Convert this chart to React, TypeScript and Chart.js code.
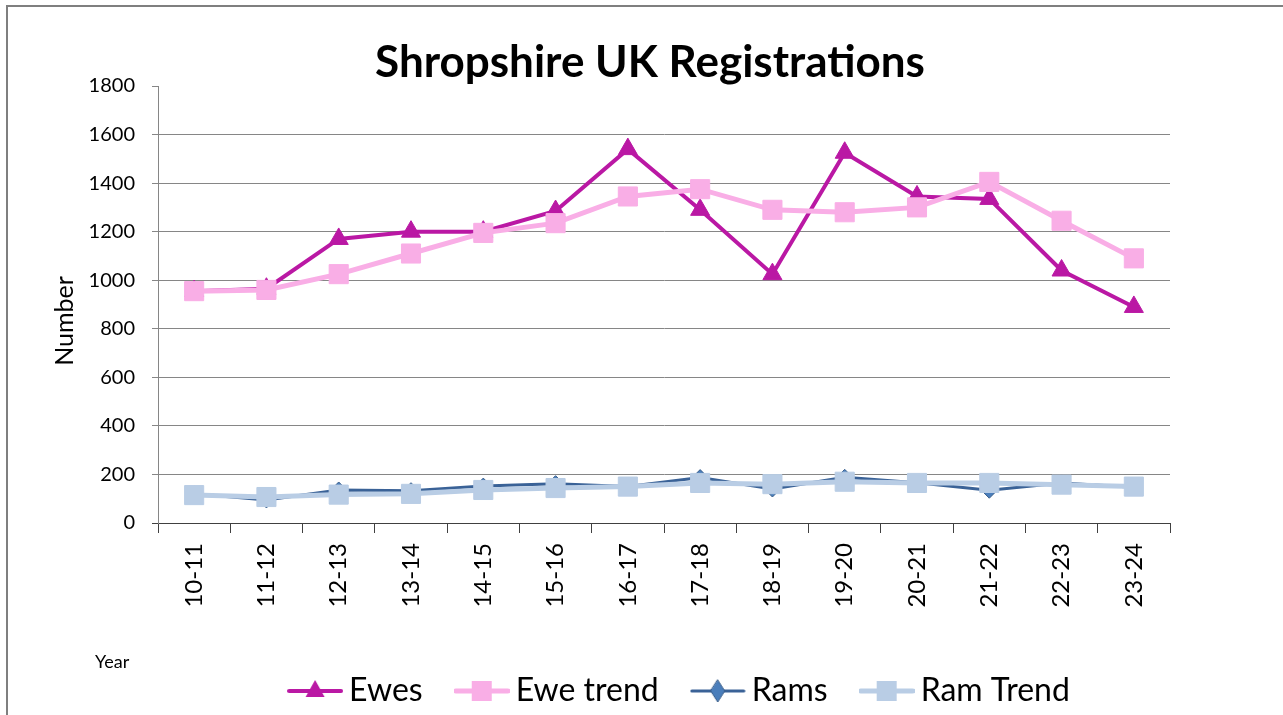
import React, { useEffect, useRef } from 'react';
import { Chart, registerables } from 'chart.js';

Chart.register(...registerables);

const categories = ['10-11', '11-12', '12-13', '13-14', '14-15', '15-16', '16-17', '17-18', '18-19', '19-20', '20-21', '21-22', '22-23', '23-24'];
const ewes = [955, 965, 1170, 1200, 1200, 1285, 1540, 1290, 1025, 1525, 1345, 1335, 1040, 890];
const eweTrend = [955, 960, 1025, 1110, 1195, 1235, 1345, 1375, 1290, 1280, 1300, 1405, 1245, 1090];
const rams = [120, 95, 136, 133, 152, 162, 150, 187, 140, 188, 166, 135, 165, 147];
const ramTrend = [115, 107, 117, 120, 136, 144, 150, 165, 160, 170, 165, 165, 158, 150];
const seriesNames = ['Ewes', 'Ewe trend', 'Rams', 'Ram Trend'];
const yMin = 0;
const yMax = 1800;
const yStep = 200;
const titleText = 'Shropshire UK Registrations';
const yTitle = 'Number';
const xTitle = 'Year';

const FONT = 'Lato, Carlito, Calibri, "Noto Sans", sans-serif';
const EWE = '#BA18A4';
const EWE_T = '#F9AEE6';
const RAM = '#3A6297';
const RAM_FILL = '#4A7EBB';
const RAM_T = '#B9CDE5';
const GRID = '#868686';
const AXIS = '#404040';

function makeSymbol(kind: string): HTMLCanvasElement {
  const c = document.createElement('canvas');
  c.width = 56;
  c.height = 28;
  const ctx = c.getContext('2d')!;
  const cy = 14;
  ctx.lineCap = 'round';
  const line = (color: string, w: number) => {
    ctx.strokeStyle = color; ctx.lineWidth = w;
    ctx.beginPath(); ctx.moveTo(2, cy); ctx.lineTo(54, cy); ctx.stroke();
  };
  if (kind === 'ewes') {
    line(EWE, 4);
    ctx.fillStyle = EWE;
    ctx.beginPath(); ctx.moveTo(28, cy - 11); ctx.lineTo(28 + 9.5, cy + 6); ctx.lineTo(28 - 9.5, cy + 6); ctx.closePath(); ctx.fill();
  } else if (kind === 'ewet') {
    line(EWE_T, 5);
    ctx.fillStyle = EWE_T; ctx.fillRect(18, cy - 10, 20, 20);
  } else if (kind === 'rams') {
    line(RAM, 3);
    ctx.fillStyle = RAM_FILL; ctx.strokeStyle = '#385D8A'; ctx.lineWidth = 1;
    ctx.beginPath(); ctx.moveTo(28, cy - 11); ctx.lineTo(35, cy); ctx.lineTo(28, cy + 11); ctx.lineTo(21, cy); ctx.closePath(); ctx.fill(); ctx.stroke();
  } else {
    line(RAM_T, 5);
    ctx.fillStyle = RAM_T; ctx.fillRect(18, cy - 10, 20, 20);
  }
  return c;
}

export default function App() {
  const ref = useRef<HTMLCanvasElement>(null);

  useEffect(() => {
    const canvas = ref.current;
    if (!canvas) return;
    const symbols = [makeSymbol('ewes'), makeSymbol('ewet'), makeSymbol('rams'), makeSymbol('ramt')];

    const extras = {
      id: 'extras',
      afterLayout(chart: any) {
        const lg = chart.legend;
        if (lg) {
          const dx = 683.5 - (lg.left + lg.right) / 2;
          lg.left += dx;
          lg.right += dx;
        }
        const tb = chart.titleBlock;
        if (tb) {
          const dx = 650 - (tb.left + tb.right) / 2;
          tb.left += dx;
          tb.right += dx;
        }
      },
      afterDraw(chart: any) {
        const ctx = chart.ctx;
        ctx.save();
        ctx.fillStyle = '#000';
        ctx.font = `25px ${FONT}`;
        ctx.textAlign = 'center';
        ctx.textBaseline = 'middle';
        ctx.translate(65, 321);
        ctx.rotate(-Math.PI / 2);
        ctx.fillText(yTitle, 0, 0);
        ctx.restore();
        ctx.save();
        ctx.fillStyle = '#000';
        ctx.font = `18px ${FONT}`;
        ctx.textAlign = 'left';
        ctx.textBaseline = 'middle';
        ctx.fillText(xTitle, 95, 662);
        ctx.restore();
      },
    };

    const chart = new Chart(canvas, {
      type: 'line',
      data: {
        labels: categories,
        datasets: [
          {
            label: seriesNames[0], data: ewes, borderColor: EWE, backgroundColor: EWE, borderWidth: 4,
            pointStyle: 'triangle', pointRadius: 11, pointBackgroundColor: EWE, pointBorderColor: EWE, pointBorderWidth: 1, order: 4,
          },
          {
            label: seriesNames[1], data: eweTrend, borderColor: EWE_T, backgroundColor: EWE_T, borderWidth: 5,
            pointStyle: 'rect', pointRadius: 13.5, pointBackgroundColor: EWE_T, pointBorderColor: EWE_T, pointBorderWidth: 1, order: 3,
          },
          {
            label: seriesNames[2], data: rams, borderColor: RAM, backgroundColor: RAM_FILL, borderWidth: 3,
            pointStyle: 'rectRot', pointRadius: 8, pointBackgroundColor: RAM_FILL, pointBorderColor: '#385D8A', pointBorderWidth: 1, order: 2,
          },
          {
            label: seriesNames[3], data: ramTrend, borderColor: RAM_T, backgroundColor: RAM_T, borderWidth: 5,
            pointStyle: 'rect', pointRadius: 13.5, pointBackgroundColor: RAM_T, pointBorderColor: RAM_T, pointBorderWidth: 1, order: 1,
          },
        ],
      },
      options: {
        animation: false,
        responsive: false,
        events: [],
        layout: { padding: { left: 10, right: 113, top: 0, bottom: -2 } },
        plugins: {
          title: {
            display: true, text: titleText, color: '#000',
            font: { family: FONT, size: 44, weight: 'bold', lineHeight: 1 },
            padding: { top: 41, bottom: 1 },
          },
          legend: {
            position: 'bottom',
            labels: {
              usePointStyle: true,
              pointStyleWidth: 36,
              padding: 41,
              color: '#000',
              font: { family: FONT, size: 32 },
              sort: (a: any, b: any) => a.datasetIndex - b.datasetIndex,
              generateLabels: (ch: any) => {
                const items = (Chart.defaults.plugins.legend.labels as any).generateLabels(ch);
                return items.map((it: any) => ({ ...it, pointStyle: symbols[it.datasetIndex], lineWidth: 0 }));
              },
            },
          },
          tooltip: { enabled: false },
        },
        scales: {
          x: {
            offset: true,
            ticks: { color: '#000', font: { family: FONT, size: 24 }, minRotation: 90, maxRotation: 90, padding: 10, autoSkip: false },
            grid: { drawOnChartArea: false, drawTicks: true, tickColor: AXIS, tickLength: 10, offset: true },
            border: { color: AXIS, width: 1 },
            afterFit: (s: any) => { s.height = 111; },
          },
          y: {
            min: yMin, max: yMax,
            ticks: { stepSize: yStep, color: '#000', font: { family: FONT, size: 20 }, padding: 17, callback: (v: any) => String(v) },
            grid: {
              color: (c: any) => (c.tick && (c.tick.value === yMax || c.tick.value === yMin) ? 'rgba(0,0,0,0)' : GRID),
              tickColor: (c: any) => (c.tick && c.tick.value === yMin ? AXIS : GRID),
              tickLength: 6, drawTicks: true,
            },
            border: { color: GRID, width: 1 },
            afterFit: (s: any) => { s.width = 148; },
          },
        },
      },
      plugins: [extras],
    } as any);

    return () => chart.destroy();
  }, []);

  return (
    <div style={{ position: 'absolute', left: 0, top: 0, width: 1283, height: 715, overflow: 'hidden', background: '#fff' }}>
      <div style={{ position: 'absolute', left: 6, top: 5, right: 0, bottom: 0, borderLeft: '2px solid #7f7f7f', borderTop: '2px solid #7f7f7f' }} />
      <canvas ref={ref} width={1283} height={715} style={{ position: 'absolute', left: 0, top: 0, width: 1283, height: 715 }} />
    </div>
  );
}
